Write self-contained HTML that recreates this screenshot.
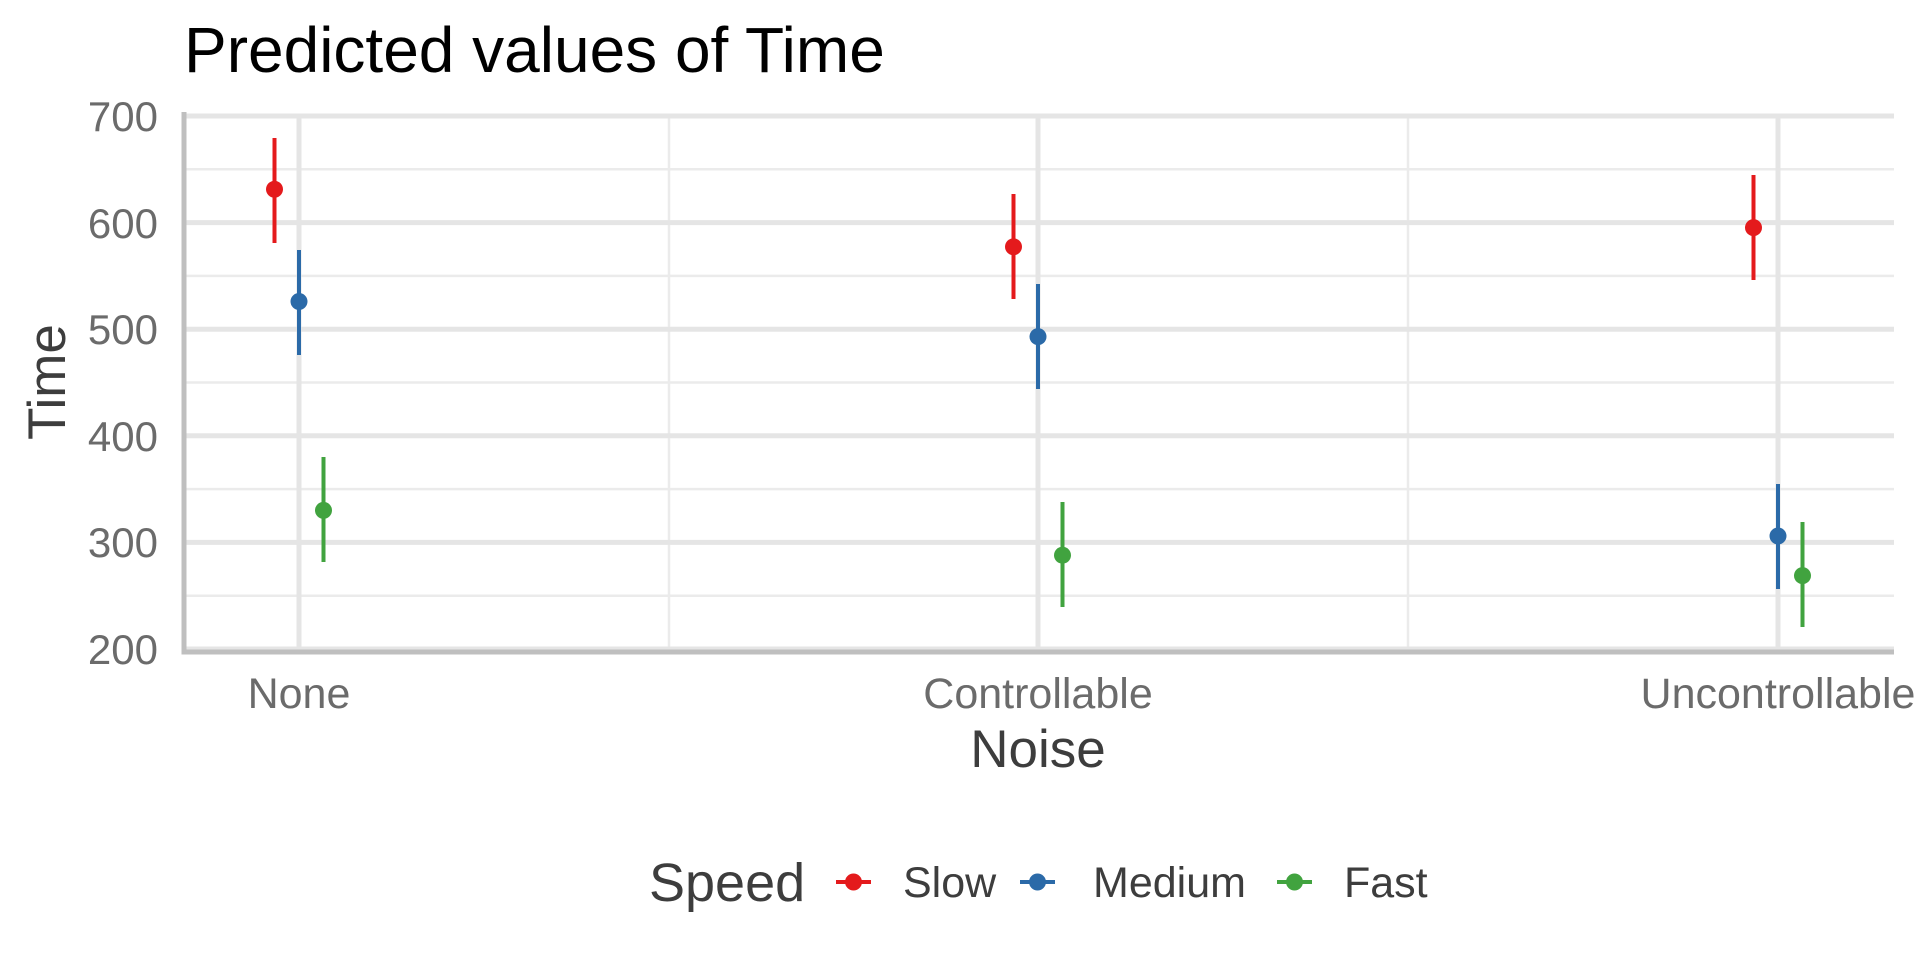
<!DOCTYPE html>
<html><head><meta charset="utf-8"><style>body{margin:0;background:#fff}svg{display:block}</style></head><body>
<svg width="1920" height="960" viewBox="0 0 1920 960" xmlns="http://www.w3.org/2000/svg" font-family="Liberation Sans, sans-serif">
<rect width="1920" height="960" fill="#fff"/>
<g stroke="#ebebeb" stroke-width="2.5">
<line x1="184" x2="1894" y1="169.3" y2="169.3"/><line x1="184" x2="1894" y1="275.9" y2="275.9"/><line x1="184" x2="1894" y1="382.5" y2="382.5"/><line x1="184" x2="1894" y1="489.1" y2="489.1"/><line x1="184" x2="1894" y1="595.7" y2="595.7"/>
<line x1="669" x2="669" y1="116" y2="649"/><line x1="1408" x2="1408" y1="116" y2="649"/>
</g>
<g stroke="#e5e5e5" stroke-width="5">
<line x1="184" x2="1894" y1="116" y2="116"/><line x1="184" x2="1894" y1="222.6" y2="222.6"/><line x1="184" x2="1894" y1="329.2" y2="329.2"/><line x1="184" x2="1894" y1="435.8" y2="435.8"/><line x1="184" x2="1894" y1="542.4" y2="542.4"/><line x1="184" x2="1894" y1="649" y2="649"/>
<line x1="299" x2="299" y1="116" y2="649"/><line x1="1038" x2="1038" y1="116" y2="649"/><line x1="1778" x2="1778" y1="116" y2="649"/>
</g>
<g stroke="#bfbfbf" stroke-width="5">
<line x1="184" x2="184" y1="112" y2="654"/><line x1="181.5" x2="1894" y1="652" y2="652"/>
</g>
<g font-size="42" fill="#6b6b6b" text-anchor="end">
<text x="158" y="131">700</text><text x="158" y="238">600</text><text x="158" y="344">500</text><text x="158" y="451">400</text><text x="158" y="557">300</text><text x="158" y="664">200</text>
</g>
<g font-size="43" fill="#6b6b6b" text-anchor="middle">
<text x="299" y="708">None</text><text x="1038" y="708">Controllable</text><text x="1778" y="708">Uncontrollable</text>
</g>
<text x="1038" y="767" font-size="53" fill="#3d3d3d" text-anchor="middle">Noise</text>
<text transform="translate(65,382) rotate(-90)" font-size="53" fill="#3d3d3d" text-anchor="middle">Time</text>
<text x="184" y="72" font-size="64" fill="#000">Predicted values of Time</text>
<g stroke-width="4">
<line x1="274.5" x2="274.5" y1="138" y2="243" stroke="#e41a1c"/><circle cx="274.5" cy="189.3" r="8.5" fill="#e41a1c"/>
<line x1="299" x2="299" y1="250" y2="355" stroke="#2b6aa8"/><circle cx="299" cy="301.5" r="8.5" fill="#2b6aa8"/>
<line x1="323.5" x2="323.5" y1="457" y2="562" stroke="#41a33f"/><circle cx="323.5" cy="510.4" r="8.5" fill="#41a33f"/>
<line x1="1013.5" x2="1013.5" y1="194" y2="299" stroke="#e41a1c"/><circle cx="1013.5" cy="246.8" r="8.5" fill="#e41a1c"/>
<line x1="1038" x2="1038" y1="284" y2="389" stroke="#2b6aa8"/><circle cx="1038" cy="336.6" r="8.5" fill="#2b6aa8"/>
<line x1="1062.5" x2="1062.5" y1="502" y2="607" stroke="#41a33f"/><circle cx="1062.5" cy="555.2" r="8.5" fill="#41a33f"/>
<line x1="1753.5" x2="1753.5" y1="175" y2="280" stroke="#e41a1c"/><circle cx="1753.5" cy="227.6" r="8.5" fill="#e41a1c"/>
<line x1="1778" x2="1778" y1="484" y2="589" stroke="#2b6aa8"/><circle cx="1778" cy="536" r="8.5" fill="#2b6aa8"/>
<line x1="1802.5" x2="1802.5" y1="522" y2="627" stroke="#41a33f"/><circle cx="1802.5" cy="575.6" r="8.5" fill="#41a33f"/>
</g>
<text x="649" y="901" font-size="54" fill="#3d3d3d">Speed</text>
<g stroke-width="4">
<line x1="836" x2="871" y1="882" y2="882" stroke="#e41a1c"/><circle cx="853.5" cy="882" r="8.5" fill="#e41a1c"/>
<line x1="1020" x2="1055" y1="882" y2="882" stroke="#2b6aa8"/><circle cx="1037.5" cy="882" r="8.5" fill="#2b6aa8"/>
<line x1="1277" x2="1312" y1="882" y2="882" stroke="#41a33f"/><circle cx="1294.5" cy="882" r="8.5" fill="#41a33f"/>
</g>
<g font-size="43" fill="#3d3d3d">
<text x="903" y="897">Slow</text><text x="1093" y="897">Medium</text><text x="1344" y="897">Fast</text>
</g>
</svg>
</body></html>
